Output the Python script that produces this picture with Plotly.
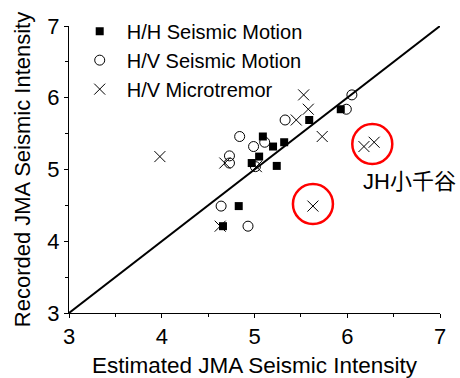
import plotly.graph_objects as go

hh_x = [4.66, 4.83, 4.97, 5.05, 5.09, 5.20, 5.24, 5.32, 5.59, 5.93]
hh_y = [4.21, 4.49, 5.09, 5.18, 5.46, 5.32, 5.05, 5.38, 5.69, 5.84]

hv_x = [6.05, 5.99, 5.33, 4.84, 4.99, 5.11, 4.73, 4.73, 5.01, 4.64, 4.93]
hv_y = [6.04, 5.84, 5.69, 5.46, 5.32, 5.38, 5.19, 5.09, 5.04, 4.49, 4.21]

mt_x = [5.53, 5.58, 5.45, 5.73, 3.98, 4.68, 5.02, 4.63, 5.63, 6.18, 6.29]
mt_y = [6.04, 5.84, 5.69, 5.46, 5.18, 5.09, 5.04, 4.21, 4.49, 5.32, 5.38]

hl_x = [5.63, 6.27]
hl_y = [4.52, 5.355]

line_x = [3, 7]
line_y = [3, 7]

label_text = "JH小千谷"
label_x = 6.15
label_y = 4.83

FONT = "Liberation Sans, Arial, Noto Sans CJK JP"

fig = go.Figure()
fig.add_trace(go.Scatter(x=line_x, y=line_y, mode="lines",
                         line=dict(color="black", width=2), showlegend=False, hoverinfo="skip"))
fig.add_trace(go.Scatter(x=hh_x, y=hh_y, mode="markers", name="H/H Seismic Motion",
                         marker=dict(symbol="square", size=8, color="black", line=dict(width=0))))
fig.add_trace(go.Scatter(x=hv_x, y=hv_y, mode="markers", name="H/V Seismic Motion",
                         marker=dict(symbol="circle-open", size=10, color="black", line=dict(width=1, color="black"))))
fig.add_trace(go.Scatter(x=mt_x, y=mt_y, mode="markers", name="H/V Microtremor",
                         marker=dict(symbol="x-thin-open", size=11, color="black", line=dict(width=1, color="black"))))
fig.add_trace(go.Scatter(x=hl_x, y=hl_y, mode="markers", showlegend=False,
                         marker=dict(symbol="circle-open", size=40, color="red", line=dict(width=2.5, color="red"))))

fig.add_annotation(x=label_x, y=label_y, text=label_text, showarrow=False,
                   xanchor="left", yanchor="middle", font=dict(size=22, color="black", family=FONT))

fig.update_layout(
    width=460, height=378,
    margin=dict(l=69, r=20, t=19, b=65),
    plot_bgcolor="white", paper_bgcolor="white",
    font=dict(family=FONT, size=21, color="black"),
    legend=dict(x=0.01, y=1.05, xanchor="left", yanchor="top", bgcolor="rgba(0,0,0,0)",
                font=dict(size=20), tracegroupgap=0, itemwidth=44),
    xaxis=dict(range=[3, 7], tickvals=[3, 4, 5, 6, 7], showline=True, linecolor="black", linewidth=1,
               ticks="outside", ticklen=4, tickcolor="black", showgrid=False, zeroline=False,
               automargin=False,
               minor=dict(tickvals=[3.5, 4.5, 5.5, 6.5], ticks="outside", ticklen=3, tickcolor="black"),
               title=dict(text="Estimated JMA Seismic Intensity", font=dict(size=22.5), standoff=8),
               tickfont=dict(size=22)),
    yaxis=dict(range=[3, 7], tickvals=[3, 4, 5, 6, 7], showline=True, linecolor="black", linewidth=1,
               ticks="outside", ticklen=4, tickcolor="black", showgrid=False, zeroline=False,
               automargin=False,
               minor=dict(tickvals=[3.5, 4.5, 5.5, 6.5], ticks="outside", ticklen=3, tickcolor="black"),
               title=dict(text="Recorded JMA Seismic Intensity", font=dict(size=22), standoff=10),
               tickfont=dict(size=22)),
)

fig.write_html("out.html")
